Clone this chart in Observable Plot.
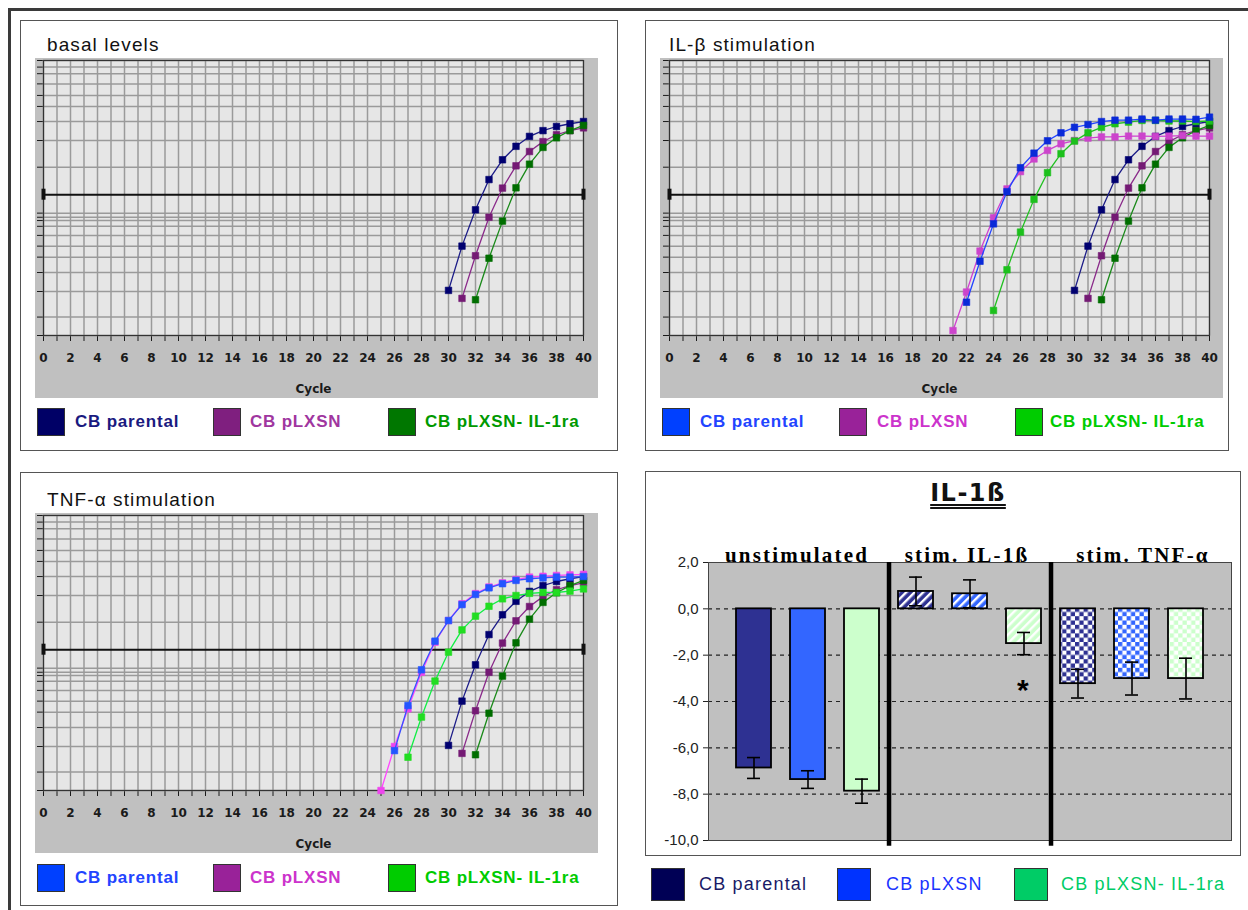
<!DOCTYPE html>
<html>
<head>
<meta charset="utf-8">
<script src="https://cdn.jsdelivr.net/npm/d3@7"></script>
<script src="https://cdn.jsdelivr.net/npm/@observablehq/plot@0.6"></script>
<style>
  html, body { margin: 0; padding: 0; background: #fff; }
  #page { position: relative; width: 1248px; height: 910px; overflow: hidden; background: #fff; font-family: "Liberation Sans", Arial, sans-serif; }
  .outer { position: absolute; left: 8px; top: 8px; width: 1260px; height: 920px; border-top: 3px solid #3a3a3a; border-left: 3px solid #3a3a3a; }
  .panel { position: absolute; border: 1px solid #555; background: #fff; }
  .title { position: absolute; font-size: 19px; line-height: 20px; letter-spacing: 1.1px; color: #111; white-space: nowrap; }
  .plotbox { position: absolute; }
  .sw { position: absolute; width: 26px; height: 26px; border: 1.5px solid #333; }
  .lt { position: absolute; font-size: 17px; font-weight: bold; letter-spacing: 0.8px; line-height: 20px; white-space: nowrap; }
  .lt2 { position: absolute; font-size: 18px; letter-spacing: 1.2px; line-height: 20px; white-space: nowrap; }
  .sw2 { position: absolute; width: 32px; height: 31px; border: 1.5px solid #333; }
  #bars g[aria-label="text"] text { letter-spacing: 2.2px; }
</style>
</head>
<body>
<svg width="0" height="0" style="position:absolute">
  <defs>
    <pattern id="stripeNavy" width="6" height="6" patternUnits="userSpaceOnUse" patternTransform="rotate(45)">
      <rect width="6" height="6" fill="#2e3192"></rect><rect width="2.4" height="6" fill="#ffffff"></rect>
    </pattern>
    <pattern id="stripeBlue" width="6" height="6" patternUnits="userSpaceOnUse" patternTransform="rotate(45)">
      <rect width="6" height="6" fill="#3366ff"></rect><rect width="2.4" height="6" fill="#ffffff"></rect>
    </pattern>
    <pattern id="stripeGreen" width="6" height="6" patternUnits="userSpaceOnUse" patternTransform="rotate(45)">
      <rect width="6" height="6" fill="#ccffcc"></rect><rect width="2.4" height="6" fill="#ffffff"></rect>
    </pattern>
    <pattern id="checkNavy" width="8.6" height="8.6" patternUnits="userSpaceOnUse">
      <rect width="8.6" height="8.6" fill="#ffffff"></rect><rect width="4.3" height="4.3" fill="#2e3192"></rect><rect x="4.3" y="4.3" width="4.3" height="4.3" fill="#2e3192"></rect>
    </pattern>
    <pattern id="checkBlue" width="8.6" height="8.6" patternUnits="userSpaceOnUse">
      <rect width="8.6" height="8.6" fill="#ffffff"></rect><rect width="4.3" height="4.3" fill="#3366ff"></rect><rect x="4.3" y="4.3" width="4.3" height="4.3" fill="#3366ff"></rect>
    </pattern>
    <pattern id="checkGreen" width="8.6" height="8.6" patternUnits="userSpaceOnUse">
      <rect width="8.6" height="8.6" fill="#ffffff"></rect><rect width="4.3" height="4.3" fill="#ccffcc"></rect><rect x="4.3" y="4.3" width="4.3" height="4.3" fill="#ccffcc"></rect>
    </pattern>
  </defs>
</svg>
<div id="page">
  <div class="outer"></div>
  <div class="panel" style="left:20px; top:20px; width:596px; height:429px;"></div>
  <div class="panel" style="left:645px; top:20px; width:582px; height:429px;"></div>
  <div class="panel" style="left:20px; top:472px; width:596px; height:432px;"></div>
  <div class="panel" style="left:645px; top:471px; width:594px; height:383px;"></div>

  <div class="title" style="left:47px; top:35px;">basal levels</div>
  <div class="title" style="left:669px; top:35px;">IL-β stimulation</div>
  <div class="title" style="left:47px; top:490px;">TNF-α stimulation</div>

  <div id="p1" class="plotbox" style="left:35px; top:58px;"></div>
  <div id="p2" class="plotbox" style="left:660px; top:58px;"></div>
  <div id="p3" class="plotbox" style="left:35px; top:513px;"></div>
  <div id="bars" class="plotbox" style="left:645px; top:470px;"></div>

  <div class="title" style="left:900px; top:479px; width:136px; text-align:center; font-family:'DejaVu Sans', sans-serif; font-weight:bold; font-size:24px; line-height:28px; letter-spacing:1.5px; text-decoration:underline double; text-underline-offset:3px;">IL-1ß</div>

  <div id="legends"></div>
</div>
<script>
// ---------- amplification plots: shared axis data ----------
const cycleTicks = [0,1,2,3,4,5,6,7,8,9,10,11,12,13,14,15,16,17,18,19,20,21,22,23,24,25,26,27,28,29,30,31,32,33,34,35,36,37,38,39,40];
// horizontal grid levels (relative fluorescence, plot units 0..100)
const gridLevels = [100, 97.6, 95.2, 91.5, 87.3, 83.3, 77.8, 70.9, 61.2, 44.5, 43.0, 41.8, 39.7, 36.4, 32.5, 28.5, 22.9, 16, 6.7, 0];
const thresholdLevel = 51.2;

// ---------- basal curves (also shown in both stimulation panels) ----------
const basalParentalStart = 30;
const basalParental = [16.4, 32.5, 45.7, 56.7, 63.9, 68.8, 72.4, 74.5, 76.0, 77.0, 77.8];
const basalPLXSNStart = 31;
const basalPLXSN = [13.5, 29.0, 43.0, 53.6, 61.7, 66.9, 70.5, 73.0, 74.5, 75.5];
const basalIL1raStart = 32;
const basalIL1ra = [13.0, 28.1, 41.6, 53.7, 62.3, 68.4, 71.9, 74.5, 76.4];

// ---------- IL-β stimulation ----------
const il1bParentalStart = 22;
const il1bParental = [12.1, 27.0, 40.6, 52.3, 61.0, 66.3, 70.8, 73.7, 75.7, 76.7, 77.8, 78.3, 78.3, 78.7, 78.3, 78.7, 78.7, 78.6, 79.4];
const il1bPLXSNStart = 21;
const il1bPLXSN = [1.8, 15.8, 30.7, 42.8, 53.3, 59.6, 64.2, 67.3, 69.7, 70.9, 71.8, 72.2, 72.2, 72.5, 72.5, 72.4, 72.5, 72.7, 72.5, 72.5];
const il1bIL1raStart = 24;
const il1bIL1ra = [9.1, 23.9, 37.6, 49.5, 59.2, 66.1, 70.7, 73.7, 75.7, 77.0, 77.6, 78.2, 78.2, 78.0, 78.0, 77.8, 78.0];

// ---------- TNF-α stimulation ----------
const tnfParentalStart = 26;
const tnfParental = [14.5, 30.9, 43.9, 54.3, 61.8, 67.6, 71.3, 73.7, 75.2, 76.4, 77.0, 77.3, 77.6, 77.6, 77.8];
const tnfPLXSNStart = 25;
const tnfPLXSN = [0, 16.0, 29.7, 43.0, 53.9, 61.8, 67.9, 71.6, 74.0, 75.5, 76.7, 77.6, 77.9, 78.2, 78.4, 78.6];
const tnfIL1raStart = 27;
const tnfIL1ra = [12.1, 26.7, 39.8, 50.3, 58.4, 63.4, 67.0, 69.7, 70.9, 71.7, 72.0, 72.0, 72.5, 73.3];

// ---------- bar chart data ----------
const groups = ["unstimulated", "stim. IL-1ß", "stim. TNF-α"];
const lines = ["CB parental", "CB pLXSN", "CB pLXSN- IL-1ra"];
const unstimValues = [-6.87, -7.37, -7.87];
const unstimErrors = [0.45, 0.38, 0.52];
const il1bValues = [0.75, 0.65, -1.50];
const il1bErrors = [0.62, 0.60, 0.48];
const tnfValues = [-3.23, -3.01, -3.01];
const tnfErrors = [0.62, 0.71, 0.88];
const yTicks = [2, 0, -2, -4, -6, -8, -10];
const dashLevels = [0, -2, -4, -6, -8];
const patterns = [
  ["#2e3192", "#3366ff", "#ccffcc"],
  ["url(#stripeNavy)", "url(#stripeBlue)", "url(#stripeGreen)"],
  ["url(#checkNavy)", "url(#checkBlue)", "url(#checkGreen)"]
];
const significance = [{group: "stim. IL-1ß", line: "CB pLXSN- IL-1ra", y: -3.25, label: "*"}];

// ---------- helpers ----------
function series(start, values) {
  return values.map((v, i) => ({cycle: start + i, level: v}));
}

function ampPlot(el, opts) {
  const marks = [
    Plot.frame({fill: "#e6e6e6"}),
    Plot.ruleX(cycleTicks, {stroke: "#9a9a9a", strokeWidth: 1.5}),
    Plot.ruleY(gridLevels, {stroke: "#9a9a9a", strokeWidth: 1.5}),
    Plot.frame({stroke: "#333", strokeWidth: 1.2}),
    Plot.ruleY([thresholdLevel], {x1: 0, x2: 40, stroke: "#111", strokeWidth: 2}),
    Plot.ruleX([0, 40], {y1: thresholdLevel - 2, y2: thresholdLevel + 2, stroke: "#111", strokeWidth: 4})
  ];
  for (const s of opts.series) {
    marks.push(Plot.line(s.data, {x: "cycle", y: "level", stroke: s.line, strokeWidth: 1.3}));
    marks.push(Plot.dot(s.data, {x: "cycle", y: "level", symbol: "square", r: 3.7, fill: s.dot, stroke: s.dot, strokeWidth: 0.6}));
  }
  const chart = Plot.plot({
    width: opts.width, height: 340,
    marginLeft: opts.marginLeft, marginRight: opts.marginRight, marginTop: 2, marginBottom: 63,
    style: {background: "#c0c0c0", fontFamily: "'DejaVu Sans', sans-serif", fontSize: "12px", fontWeight: "bold", color: "#1a1a1a", overflow: "visible"},
    x: {domain: [0, 40], ticks: cycleTicks, tickFormat: d => (d % 2 === 0 ? String(d) : ""), tickSize: 6, tickPadding: 12,
        label: "Cycle", labelAnchor: "center", labelOffset: 57, labelArrow: "none"},
    y: {domain: [0, 100], ticks: gridLevels, tickFormat: () => "", tickSize: 6, label: null},
    marks
  });
  document.getElementById(el).appendChild(chart);
}

const basalSeries = [
  {data: series(basalParentalStart, basalParental), line: "#1c1c88", dot: "#000070"},
  {data: series(basalPLXSNStart, basalPLXSN), line: "#8a2a8a", dot: "#741a74"},
  {data: series(basalIL1raStart, basalIL1ra), line: "#1a8a1a", dot: "#006e00"}
];

ampPlot("p1", {width: 563, marginLeft: 8, marginRight: 15, series: basalSeries});

ampPlot("p2", {width: 563, marginLeft: 9, marginRight: 14, series: [
  ...basalSeries,
  {data: series(il1bPLXSNStart, il1bPLXSN), line: "#d040d0", dot: "#cc44cc"},
  {data: series(il1bIL1raStart, il1bIL1ra), line: "#20c020", dot: "#1cc01c"},
  {data: series(il1bParentalStart, il1bParental), line: "#2244ff", dot: "#0a2ad8"}
]});

ampPlot("p3", {width: 563, marginLeft: 8, marginRight: 15, series: [
  ...basalSeries,
  {data: series(tnfIL1raStart, tnfIL1ra), line: "#11ee44", dot: "#22dd22"},
  {data: series(tnfPLXSNStart, tnfPLXSN), line: "#ff44ff", dot: "#ee44ee"},
  {data: series(tnfParentalStart, tnfParental), line: "#3355ff", dot: "#2255ff"}
]});

// ---------- bar chart ----------
const barData = [];
const valueSets = [unstimValues, il1bValues, tnfValues];
const errorSets = [unstimErrors, il1bErrors, tnfErrors];
groups.forEach((g, gi) => lines.forEach((l, li) => {
  barData.push({key: g + " | " + l, group: g, line: l, value: valueSets[gi][li], err: errorSets[gi][li], pattern: patterns[gi][li]});
}));
const barKeys = barData.map(d => d.key);
const groupLabels = groups.map(g => ({key: g + " | " + lines[1], label: g}));
const separatorKeys = groups.slice(0, 2).map(g => g + " | " + lines[2]);
const sigData = significance.map(s => ({key: s.group + " | " + s.line, y: s.y, label: s.label}));

const plotW = 595, mL = 63, mR = 9;
const padIn = 0.352, padOut = 0.515;
const step = (plotW - mL - mR) / (barKeys.length - padIn + 2 * padOut);

const serif = "'Liberation Serif', 'Times New Roman', serif";
const barChart = Plot.plot({
  width: plotW, height: 385,
  marginLeft: mL, marginRight: mR, marginTop: 92, marginBottom: 15,
  style: {fontFamily: "'Liberation Sans', Arial, sans-serif", fontSize: "15px", background: "transparent", color: "#222", overflow: "visible"},
  x: {type: "band", domain: barKeys, paddingInner: padIn, paddingOuter: padOut, axis: null},
  y: {domain: [-10, 2], ticks: yTicks, tickFormat: d => d.toFixed(1).replace(".", ","), tickSize: 5, tickPadding: 5, label: null},
  color: {type: "identity"},
  marks: [
    Plot.frame({fill: "#c0c0c0"}),
    Plot.ruleY(dashLevels, {stroke: "#222", strokeWidth: 1.2, strokeDasharray: "4,4"}),
    Plot.barY(barData, {x: "key", y: "value", fill: "pattern", stroke: "#000", strokeWidth: 1.8}),
    Plot.ruleX(barData, {x: "key", y1: d => d.value - d.err, y2: d => d.value + d.err, stroke: "#000", strokeWidth: 1.6}),
    Plot.tickY(barData, {x: "key", y: d => d.value - d.err, insetLeft: 11, insetRight: 11, stroke: "#000", strokeWidth: 1.6}),
    Plot.tickY(barData, {x: "key", y: d => d.value + d.err, insetLeft: 11, insetRight: 11, stroke: "#000", strokeWidth: 1.6}),
    Plot.frame({stroke: "#444", strokeWidth: 1}),
    Plot.ruleX(separatorKeys, {y1: -10.25, y2: 2, dx: step / 2, stroke: "#000", strokeWidth: 4.5}),
    Plot.text(groupLabels.slice(0, 1), {x: "key", text: "label", frameAnchor: "top", dy: -15, dx: -11, fontFamily: serif, fontWeight: "bold", fontSize: 21, fill: "#000"}),
    Plot.text(groupLabels.slice(1, 2), {x: "key", text: "label", frameAnchor: "top", dy: -15, dx: -3, fontFamily: serif, fontWeight: "bold", fontSize: 21, fill: "#000"}),
    Plot.text(groupLabels.slice(2, 3), {x: "key", text: "label", frameAnchor: "top", dy: -15, dx: 11, fontFamily: serif, fontWeight: "bold", fontSize: 21, fill: "#000"}),
    Plot.text(sigData, {x: "key", y: "y", text: "label", fontSize: 30, fontWeight: "bold", fill: "#000", dy: 6})
  ]
});
document.getElementById("bars").appendChild(barChart);

// ---------- legends ----------
const legendSpecs = [
  {top: 408, items: [
    {sw: 37, tx: 75, fill: "#000066", color: "#1a1a80", label: lines[0]},
    {sw: 213, tx: 250, fill: "#7f1f7f", color: "#a0369f", label: lines[1]},
    {sw: 388, tx: 425, fill: "#007700", color: "#009900", label: lines[2]}]},
  {top: 408, items: [
    {sw: 662, tx: 700, fill: "#0040ff", color: "#2244ff", label: lines[0]},
    {sw: 839, tx: 877, fill: "#992299", color: "#cc33cc", label: lines[1]},
    {sw: 1015, tx: 1050, fill: "#00cc00", color: "#00cc00", label: lines[2]}]},
  {top: 864, items: [
    {sw: 37, tx: 75, fill: "#0040ff", color: "#2244ff", label: lines[0]},
    {sw: 213, tx: 250, fill: "#992299", color: "#cc33cc", label: lines[1]},
    {sw: 388, tx: 425, fill: "#00cc00", color: "#00cc00", label: lines[2]}]}
];
const legendRoot = document.getElementById("legends");
for (const spec of legendSpecs) {
  for (const it of spec.items) {
    const s = document.createElement("div");
    s.className = "sw"; s.style.left = it.sw + "px"; s.style.top = spec.top + "px"; s.style.background = it.fill;
    legendRoot.appendChild(s);
    const t = document.createElement("div");
    t.className = "lt"; t.style.left = it.tx + "px"; t.style.top = (spec.top + 4) + "px"; t.style.color = it.color;
    t.textContent = it.label;
    legendRoot.appendChild(t);
  }
}
const barLegend = [
  {sw: 651, tx: 699, fill: "#000055", color: "#1a1a66", label: lines[0]},
  {sw: 837, tx: 886, fill: "#0033ff", color: "#1a33ff", label: lines[1]},
  {sw: 1014, tx: 1061, fill: "#00cc66", color: "#00cc66", label: lines[2]}
];
for (const it of barLegend) {
  const s = document.createElement("div");
  s.className = "sw2"; s.style.left = it.sw + "px"; s.style.top = "868px"; s.style.background = it.fill;
  legendRoot.appendChild(s);
  const t = document.createElement("div");
  t.className = "lt2"; t.style.left = it.tx + "px"; t.style.top = "874px"; t.style.color = it.color;
  t.textContent = it.label;
  legendRoot.appendChild(t);
}
</script>
</body>
</html>
